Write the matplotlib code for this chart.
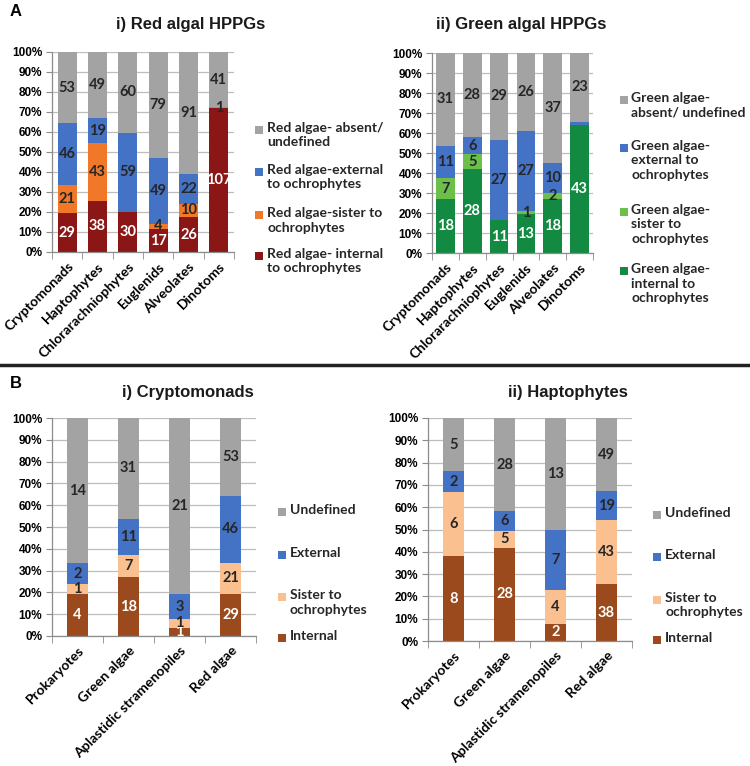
import numpy as np
import matplotlib
matplotlib.use("Agg")
import matplotlib.pyplot as plt
from matplotlib.patches import Rectangle
from matplotlib.lines import Line2D

W, H = 750, 766

# ---- data (counts) ----
hosts = ['Cryptomonads', 'Haptophytes', 'Chlorarachniophytes', 'Euglenids', 'Alveolates', 'Dinotoms']
red_internal = [29, 38, 30, 17, 26, 107]
red_sister = [21, 43, 0, 4, 10, 1]
red_external = [46, 19, 59, 49, 22, 0]
red_absent = [53, 49, 60, 79, 91, 41]

green_internal = [18, 28, 11, 13, 18, 43]
green_sister = [7, 5, 0, 1, 2, 0]
green_external = [11, 6, 27, 27, 10, 1]
green_absent = [31, 28, 29, 26, 37, 23]

sources = ['Prokaryotes', 'Green algae', 'Aplastidic stramenopiles', 'Red algae']
crypto_internal = [4, 18, 1, 29]
crypto_sister = [1, 7, 1, 21]
crypto_external = [2, 11, 3, 46]
crypto_undefined = [14, 31, 21, 53]

hapto_internal = [8, 28, 2, 38]
hapto_sister = [6, 5, 4, 43]
hapto_external = [2, 6, 7, 19]
hapto_undefined = [5, 28, 13, 49]

GRAY = '#A3A3A3'
BLUE = '#4472C4'
DARK = '#262626'

LAB_FONT = 'Lato'
AX_FONT = 'Liberation Sans'

fig = plt.figure(figsize=(7.5, 7.66), dpi=100)


def make_axes(left, top, right, bottom):
    return fig.add_axes([left / W, 1 - bottom / H, (right - left) / W, (bottom - top) / H])


def stacked(ax, cats, series, colors, txtcols, width, hide=()):
    data = np.array(series, dtype=float)
    tot = data.sum(axis=0)
    pct = data / tot * 100
    x = np.arange(len(cats))
    bottom = np.zeros(len(cats))
    ax.set_axisbelow(True)
    for i, (p, c) in enumerate(zip(pct, colors)):
        ax.bar(x, p, width, bottom=bottom, color=c, edgecolor='none', zorder=2)
        for j in range(len(cats)):
            if data[i, j] > 0 and (i, j) not in hide:
                ax.text(x[j], bottom[j] + p[j] / 2, str(int(data[i, j])), ha='center', va='center',
                        color=txtcols[i], fontsize=10.5, fontweight='bold', family=LAB_FONT, zorder=3)
        bottom += p
    ax.set_xlim(-0.5, len(cats) - 0.5)
    ax.set_ylim(0, 100)
    ax.set_yticks(np.arange(0, 101, 10))
    ax.set_yticklabels(['%d%%' % v for v in range(0, 101, 10)], fontsize=8.5,
                       fontweight='bold', family=AX_FONT)
    ax.yaxis.grid(True, color='#BDBDBD', lw=0.9)
    ax.set_xticks(x)
    ax.set_xticklabels(cats, rotation=45, ha='right', rotation_mode='anchor',
                       fontsize=10, fontweight='bold', family=LAB_FONT)
    ax.tick_params(axis='x', length=0, pad=6)
    ax.set_xticks(np.arange(len(cats) + 1) - 0.5, minor=True)
    ax.tick_params(axis='x', which='minor', length=5, color='#8C8C8C', direction='out')
    ax.tick_params(axis='y', length=4, color='#8C8C8C', pad=3)
    for s in ['top', 'right']:
        ax.spines[s].set_visible(False)
    for s in ['left', 'bottom']:
        ax.spines[s].set_color('#8C8C8C')
        ax.spines[s].set_linewidth(0.9)


def legend_items(xm, xt, ys, labels, colors):
    for y, lab, c in zip(ys, labels, colors):
        fig.add_artist(Rectangle((xm / W, 1 - (y + 4) / H), 8 / W, 8 / H,
                                 transform=fig.transFigure, color=c, lw=0))
        fig.text(xt / W, 1 - (y - 8) / H, lab, va='top', ha='left', fontsize=10,
                 fontweight='bold', family=LAB_FONT, color=DARK, linespacing=1.25)


# ---- panel A i ----
ax1 = make_axes(52, 52, 234, 252)
stacked(ax1, hosts, [red_internal, red_sister, red_external, red_absent],
        ['#8A1616', '#F07828', BLUE, GRAY], ['white', DARK, DARK, DARK], 0.63)
legend_items(255, 267, [130, 172, 215, 256],
             ['Red algae- absent/\nundefined', 'Red algae-external\nto ochrophytes',
              'Red algae-sister to\nochrophytes', 'Red algae- internal\nto ochrophytes'],
             [GRAY, BLUE, '#F07828', '#8A1616'])

# ---- panel A ii ----
ax2 = make_axes(432, 53, 593, 253)
stacked(ax2, hosts, [green_internal, green_sister, green_external, green_absent],
        ['#128A42', '#6CBF4A', BLUE, GRAY], ['white', DARK, DARK, DARK], 0.7,
        hide={(2, 5)})
legend_items(620, 631, [100, 148, 212, 271],
             ['Green algae-\nabsent/ undefined', 'Green algae-\nexternal to\nochrophytes',
              'Green algae-\nsister to\nochrophytes', 'Green algae-\ninternal to\nochrophytes'],
             [GRAY, BLUE, '#6CBF4A', '#128A42'])

# ---- panel B i ----
ax3 = make_axes(52, 418, 256, 636)
stacked(ax3, sources, [crypto_internal, crypto_sister, crypto_external, crypto_undefined],
        ['#9A4A1C', '#FAC08F', BLUE, GRAY], ['white', DARK, DARK, DARK], 0.4)
legend_items(278, 290, [512, 555, 597, 638],
             ['Undefined', 'External', 'Sister to\nochrophytes', 'Internal'],
             [GRAY, BLUE, '#FAC08F', '#9A4A1C'])

# ---- panel B ii ----
ax4 = make_axes(428, 418, 632, 641)
stacked(ax4, sources, [hapto_internal, hapto_sister, hapto_external, hapto_undefined],
        ['#9A4A1C', '#FAC08F', BLUE, GRAY], ['white', DARK, DARK, DARK], 0.4)
legend_items(653, 665, [515, 557, 600, 640],
             ['Undefined', 'External', 'Sister to\nochrophytes', 'Internal'],
             [GRAY, BLUE, '#FAC08F', '#9A4A1C'])

# ---- titles, panel letters, separator ----
tkw = dict(ha='center', va='center', fontsize=12, fontweight='bold', family=AX_FONT, color='#1a1a1a')
fig.text(191 / W, 1 - 24 / H, 'i) Red algal HPPGs', **tkw)
fig.text(521 / W, 1 - 24 / H, 'ii) Green algal HPPGs', **tkw)
fig.text(188 / W, 1 - 392 / H, 'i) Cryptomonads', **tkw)
fig.text(568 / W, 1 - 392 / H, 'ii) Haptophytes', **tkw)
fig.text(10 / W, 1 - 12 / H, 'A', ha='left', va='center', fontsize=12, fontweight='bold', family=AX_FONT)
fig.text(10 / W, 1 - 383 / H, 'B', ha='left', va='center', fontsize=12, fontweight='bold', family=AX_FONT)
fig.add_artist(Line2D([0, 1], [1 - 365 / H, 1 - 365 / H], transform=fig.transFigure,
                      color='#222222', lw=2.5))

fig.savefig('out.png', dpi=100)
